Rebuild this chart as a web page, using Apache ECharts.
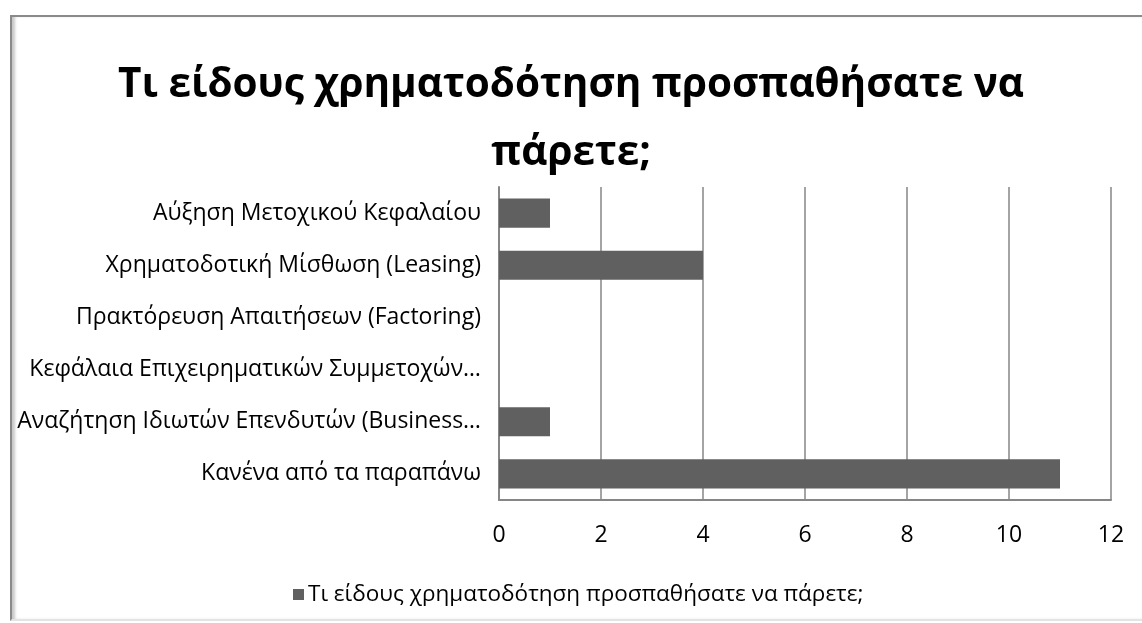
<!DOCTYPE html>
<html>
<head>
<meta charset="utf-8">
<script src="https://cdn.jsdelivr.net/npm/echarts@6/dist/echarts.min.js"></script>
<style>
  html, body { margin: 0; padding: 0; background: #fff; }
  #frame {
    position: absolute; left: 10px; top: 15px; width: 1140px; height: 602px;
    border-left: 2px solid #8a8a8a; border-top: 2px solid #8a8a8a;
    border-bottom: 2px solid #e4e4e4;
    box-shadow: inset 4px 0 3px -1px #c8c8c8;
  }
  #chart { position: absolute; left: 0; top: 0; width: 1142px; height: 623px; }
</style>
</head>
<body>
<div id="frame"></div>
<div id="chart"></div>
<script>
// categories, top to bottom
const categories = [
  "Αύξηση Μετοχικού Κεφαλαίου",
  "Χρηματοδοτική Μίσθωση (Leasing)",
  "Πρακτόρευση Απαιτήσεων (Factoring)",
  "Κεφάλαια Επιχειρηματικών Συμμετοχών…",
  "Αναζήτηση Ιδιωτών Επενδυτών (Business…",
  "Κανένα από τα παραπάνω"
];
const values = [1, 4, 0, 0, 1, 11];
const seriesName = "Τι είδους χρηματοδότηση προσπαθήσατε να πάρετε;";

const font = "'Open Sans', 'Noto Sans', sans-serif";
const chart = echarts.init(document.getElementById("chart"));

chart.setOption({
  animation: false,
  backgroundColor: "transparent",
  title: {
    text: "Τι είδους χρηματοδότηση προσπαθήσατε να\nπάρετε;",
    left: "center",
    top: 46,
    textStyle: {
      fontFamily: font,
      fontSize: 40.5,
      fontWeight: "bold",
      color: "#000",
      lineHeight: 68
    }
  },
  legend: {
    top: 578,
    left: 288,
    itemWidth: 11,
    itemHeight: 11,
    itemGap: 4,
    icon: "rect",
    textStyle: { fontFamily: font, fontSize: 22.5, color: "#000", padding: [0, 0, 0, -1] },
    data: [seriesName]
  },
  grid: { left: 499, right: 31, top: 187, bottom: 123 },
  xAxis: {
    type: "value",
    min: 0,
    max: 12,
    interval: 2,
    axisLine: { show: true, lineStyle: { color: "#868686", width: 2 } },
    axisTick: { show: false },
    splitLine: { show: true, lineStyle: { color: "#868686", width: 1.5 } },
    axisLabel: { fontFamily: font, fontSize: 23, color: "#000", margin: 24 }
  },
  yAxis: {
    type: "category",
    inverse: true,
    data: categories,
    axisLine: { show: true, lineStyle: { color: "#868686", width: 2 } },
    axisTick: { show: false },
    axisLabel: { fontFamily: font, fontSize: 23, color: "#000", margin: 18 }
  },
  series: [{
    name: seriesName,
    type: "bar",
    data: values,
    barCategoryGap: "44%",
    itemStyle: { color: "#606060" }
  }]
});
</script>
</body>
</html>
